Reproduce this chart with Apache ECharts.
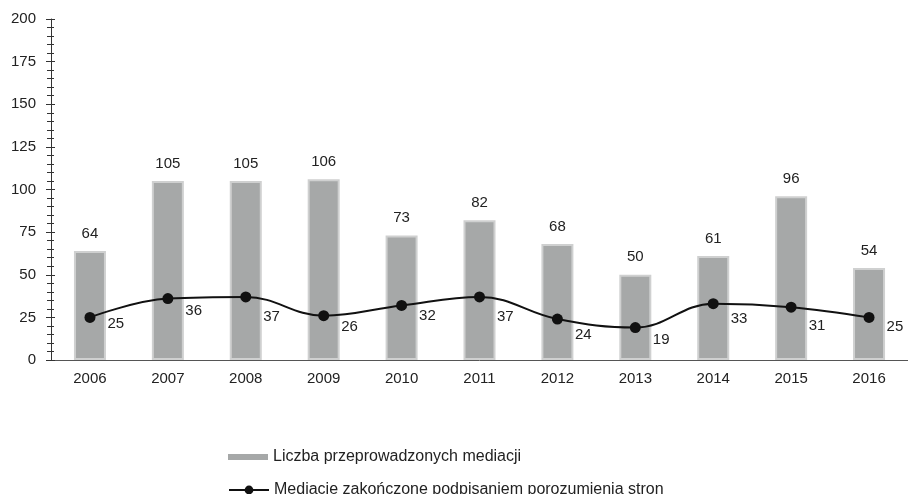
<!DOCTYPE html>
<html>
<head>
<meta charset="utf-8">
<script src="https://cdn.jsdelivr.net/npm/echarts@6/dist/echarts.min.js"></script>
<style>
  html, body { margin: 0; padding: 0; background: #fff; }
  #chart { width: 908px; height: 494px; }
</style>
</head>
<body>
<div id="chart"></div>
<script>
const years = ["2006", "2007", "2008", "2009", "2010", "2011", "2012", "2013", "2014", "2015", "2016"];
const mediations = [64, 105, 105, 106, 73, 82, 68, 50, 61, 96, 54];
const agreements = [25, 36, 37, 26, 32, 37, 24, 19, 33, 31, 25];
const barName = "Liczba przeprowadzonych mediacji";
const lineName = "Mediacje zakończone podpisaniem porozumienia stron";

// vertical nudge of each line label (px), as placed in the original
const lineLabelNudge = [6, 12, 20, 11, 10, 20, 16, 12, 15, 19, 9];

const font = "'Liberation Sans', Arial, sans-serif";
const textStyle = { color: "#222", fontSize: 15, fontFamily: font };
const legendText = { color: "#222", fontSize: 16, fontFamily: font };

const chart = echarts.init(document.getElementById("chart"));
chart.setOption({
  animation: false,
  textStyle: { fontFamily: font },
  grid: { left: 51, top: 19, bottom: 134, width: 862 },
  legend: [
    {
      data: [{ name: barName, icon: "rect", itemStyle: { borderWidth: 0, color: "#a6a8a8" } }],
      left: 228,
      top: 449,
      padding: 0,
      itemWidth: 40,
      itemHeight: 6,
      textStyle: legendText,
    },
    {
      data: [lineName],
      left: 228,
      top: 482,
      padding: 0,
      itemWidth: 40,
      itemHeight: 11,
      textStyle: legendText,
    },
  ],
  xAxis: {
    type: "category",
    data: years,
    axisLine: { lineStyle: { color: "#555", width: 1 } },
    axisTick: { show: false },
    axisLabel: { ...textStyle, margin: 11 },
  },
  yAxis: [
    {
      type: "value",
      min: 0,
      max: 200,
      interval: 25,
      axisLine: { show: true, lineStyle: { color: "#333" } },
      axisTick: { show: true, length: 5, lineStyle: { color: "#333" } },
      minorTick: { show: true, splitNumber: 5, length: 4, lineStyle: { color: "#333" } },
      splitLine: { show: false },
      axisLabel: { ...textStyle, margin: 15 },
    },
    {
      type: "value",
      position: "left",
      min: 0,
      max: 200,
      interval: 25,
      axisLine: { show: false },
      axisTick: { show: true, inside: true, length: 4, lineStyle: { color: "#333" } },
      minorTick: { show: true, splitNumber: 5, length: 3, lineStyle: { color: "#333" } },
      splitLine: { show: false },
      axisLabel: { show: false },
    },
  ],
  series: [
    {
      name: barName,
      type: "bar",
      data: mediations,
      barWidth: 32,
      itemStyle: { color: "#a6a8a8", borderColor: "#cfd0d0", borderWidth: 2 },
      label: { show: true, position: "top", distance: 10, ...textStyle },
      z: 2,
    },
    {
      name: lineName,
      type: "line",
      data: agreements.map((v, i) => ({ value: v, label: { offset: [0, lineLabelNudge[i]] } })),
      smooth: 0.4,
      symbol: "circle",
      symbolSize: 11,
      lineStyle: { color: "#111", width: 2 },
      itemStyle: { color: "#111" },
      label: { show: true, position: "right", distance: 12, ...textStyle },
      z: 3,
    },
  ],
});
</script>
</body>
</html>
